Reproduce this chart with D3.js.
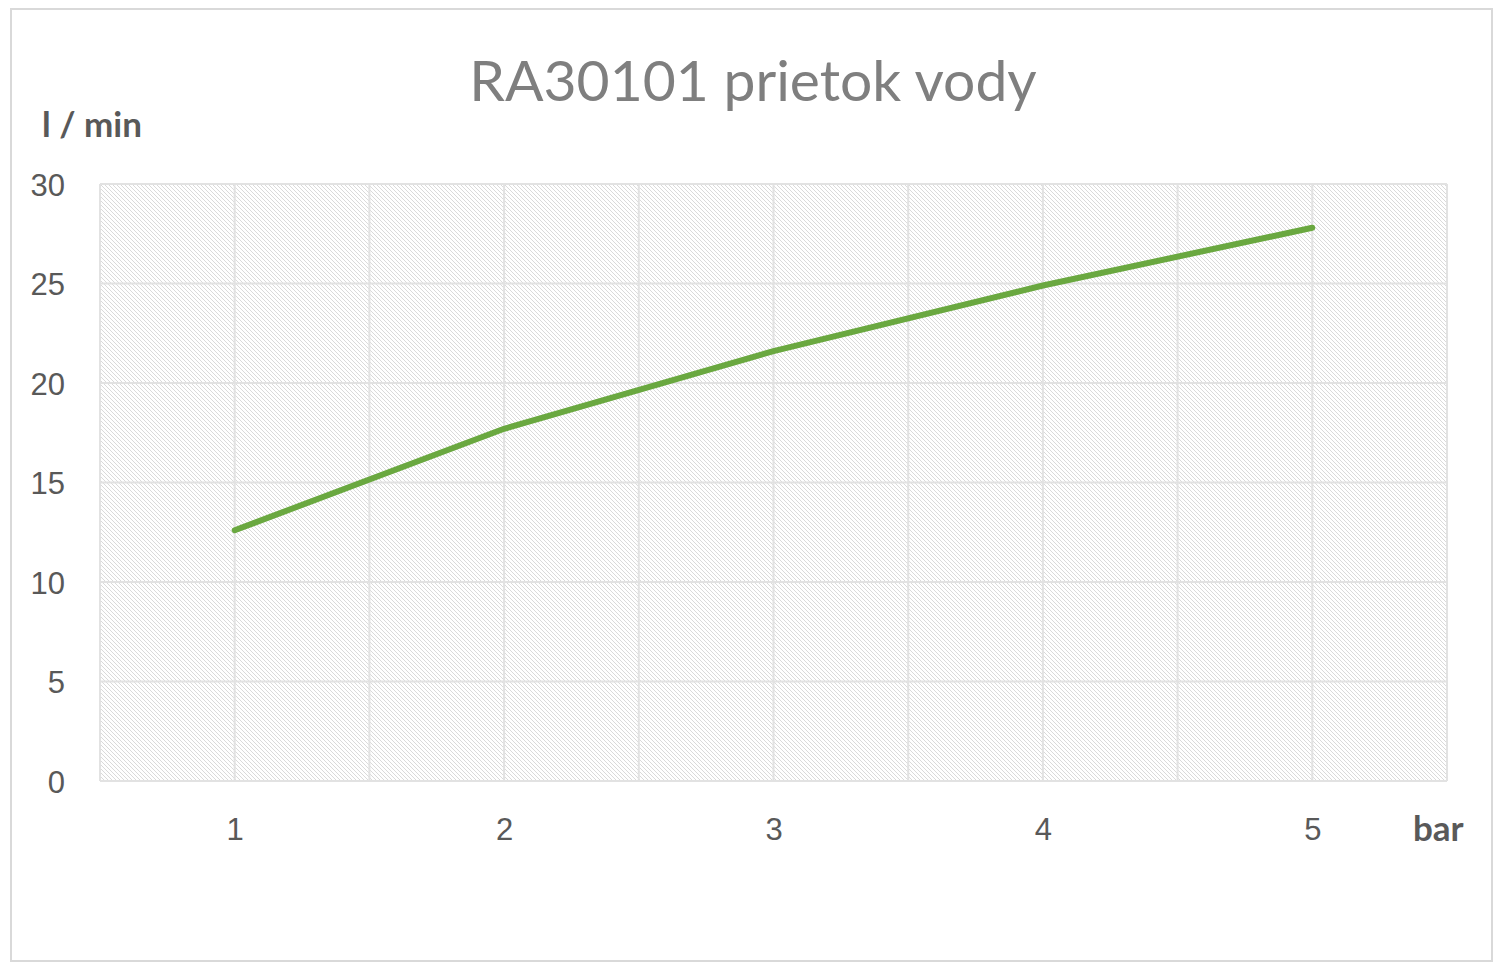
<!DOCTYPE html>
<html>
<head>
<meta charset="utf-8">
<script src="https://cdn.jsdelivr.net/npm/d3@7"></script>
<style>
  body { margin: 0; background: #fff; }
  svg { display: block; font-family: Lato, "Open Sans", sans-serif; }
</style>
</head>
<body>
<svg></svg>
<script>
let width = 1500
let height = 966

let pressure = [1, 2, 3, 4, 5]
let flow = [12.6, 17.7, 21.6, 24.9, 27.8]
let yTicks = [0, 5, 10, 15, 20, 25, 30]
let xGrid = [0.5, 1, 1.5, 2, 2.5, 3, 3.5, 4, 4.5, 5, 5.5]

let title = 'RA30101 prietok vody'
let yTitle = 'l / min'
let xTitle = 'bar'

let margin = {left: 100, right: 53, top: 184, bottom: 185}

let svg = d3.select('svg')
    .attr('width', width)
    .attr('height', height)

// outer frame
svg.append('rect')
    .attr('x', 11).attr('y', 9)
    .attr('width', 1481).attr('height', 952)
    .attr('fill', '#fff')
    .attr('stroke', '#d9d9d9')
    .attr('stroke-width', 2)

let xScale = d3.scaleLinear()
    .domain([0.5, 5.5])
    .range([margin.left, width - margin.right])

let yScale = d3.scaleLinear()
    .domain([0, 30])
    .range([height - margin.bottom, margin.top])

// hatch pattern for plot area
let defs = svg.append('defs')
let pat = defs.append('pattern')
    .attr('id', 'hatch')
    .attr('patternUnits', 'userSpaceOnUse')
    .attr('width', 4).attr('height', 4)
pat.append('rect').attr('width', 4).attr('height', 4).attr('fill', '#fff')
pat.append('path')
    .attr('d', 'M-1,-1 L5,5 M-1,3 L1,5 M3,-1 L5,1')
    .attr('stroke', '#dadada')
    .attr('stroke-width', 1)

svg.append('rect')
    .attr('x', xScale(0.5))
    .attr('y', yScale(30))
    .attr('width', xScale(5.5) - xScale(0.5))
    .attr('height', yScale(0) - yScale(30))
    .attr('fill', 'url(#hatch)')

// grid lines
svg.append('g')
    .selectAll('line')
    .data(xGrid)
    .enter()
    .append('line')
    .attr('x1', d => xScale(d)).attr('x2', d => xScale(d))
    .attr('y1', yScale(0)).attr('y2', yScale(30))
    .attr('stroke', '#e2e2e2')
    .attr('stroke-width', 2)

svg.append('g')
    .selectAll('line')
    .data(yTicks)
    .enter()
    .append('line')
    .attr('x1', xScale(0.5)).attr('x2', xScale(5.5))
    .attr('y1', d => yScale(d)).attr('y2', d => yScale(d))
    .attr('stroke', '#e2e2e2')
    .attr('stroke-width', 2)

// axes (labels only)
let yAxis = d3.axisLeft(yScale).tickValues(yTicks).tickSize(0).tickPadding(0)
let gy = svg.append('g')
    .attr('transform', 'translate(65,0)')
    .call(yAxis)
gy.select('.domain').remove()
gy.selectAll('text')
    .attr('fill', '#595959')
    .style('font-size', '31px')
    .attr('dy', '0.36em')

let xAxis = d3.axisBottom(xScale).tickValues(pressure).tickFormat(d3.format('d'))
    .tickSize(0).tickPadding(0)
let gx = svg.append('g')
    .attr('transform', 'translate(0,818)')
    .call(xAxis)
gx.select('.domain').remove()
gx.selectAll('text')
    .attr('fill', '#595959')
    .style('font-size', '31px')
    .attr('dy', '0.72em')

// data line
let line = d3.line()
    .x((d, i) => xScale(pressure[i]))
    .y(d => yScale(d))

svg.append('path')
    .datum(flow)
    .attr('d', line)
    .attr('fill', 'none')
    .attr('stroke', '#6aa840')
    .attr('stroke-width', 6)
    .attr('stroke-linecap', 'round')
    .attr('stroke-linejoin', 'round')

// titles
svg.append('text')
    .attr('x', 753).attr('y', 101)
    .attr('text-anchor', 'middle')
    .attr('fill', '#7f7f7f')
    .style('font-size', '57px')
    .text(title)

svg.append('text')
    .attr('x', 42).attr('y', 137)
    .attr('fill', '#595959')
    .style('font-size', '35px')
    .style('font-weight', 'bold')
    .text(yTitle)

svg.append('text')
    .attr('x', 1413).attr('y', 841)
    .attr('fill', '#595959')
    .style('font-size', '35px')
    .style('font-weight', 'bold')
    .text(xTitle)
</script>
</body>
</html>
